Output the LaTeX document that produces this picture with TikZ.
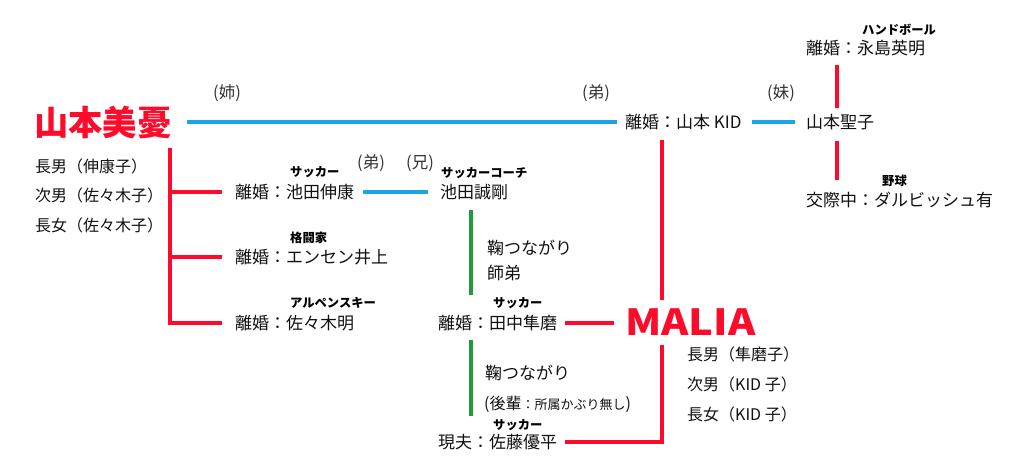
\documentclass[tikz,border=0pt]{standalone}
\usepackage{fontspec}
\setmainfont{Noto Sans CJK JP}
\definecolor{myred}{HTML}{FF0A2A}
\definecolor{myblue}{HTML}{1BA6E0}
\definecolor{mygreen}{HTML}{1E9B3A}
\definecolor{txtc}{HTML}{111111}
\definecolor{relc}{HTML}{333333}
\tikzset{
  lbl/.style={anchor=west, inner sep=0pt, text=txtc, font=\fontsize{17}{17}\selectfont},
  kidlbl/.style={anchor=west, inner sep=0pt, text=txtc, font=\fontsize{16}{16}\selectfont},
  rubylbl/.style={anchor=west, inner sep=0pt, text=black, font=\fontsize{12.3}{12}\selectfont\bfseries},
  rellbl/.style={anchor=west, inner sep=0pt, text=relc, font=\fontsize{16.5}{16}\selectfont},
  bigname/.style={anchor=west, inner sep=0pt, text=myred, font=\fontsize{34.3}{35}\selectfont\bfseries},
  redl/.style={draw=myred, line width=4pt},
  bluel/.style={draw=myblue, line width=4pt},
  greenl/.style={draw=mygreen, line width=4pt},
}
\begin{document}
\begin{tikzpicture}[x=1pt,y=-1pt]
\useasboundingbox (0,0) rectangle (1023,476);
% main people
\node[bigname] (miyu) at (34,122) {山本美憂};
\node[rellbl] (ane) at (213,93) {(姉)};
\node[rellbl] (ototo1) at (582,93) {(弟)};
\node[lbl] (kid) at (625,122) {離婚：山本 KID};
\node[rellbl] (imoto) at (767,93) {(妹)};
\node[lbl] (seiko) at (806,122) {山本聖子};
\node[lbl] (naga) at (806,48) {離婚：永島英明};
\node[rubylbl] (nagar) at (862,30) {ハンドボール};
\node[lbl] (darv) at (806,200) {交際中：ダルビッシュ有};
\node[rubylbl] (darvr) at (882,181) {野球};
% miyu's children
\node[kidlbl] (mk1) at (35,166) {長男（伸康子）};
\node[kidlbl] (mk2) at (35,195) {次男（佐々木子）};
\node[kidlbl] (mk3) at (35,225) {長女（佐々木子）};
% miyu's ex-husbands
\node[lbl] (ikeda) at (235,192) {離婚：池田伸康};
\node[rubylbl] (ikedar) at (290,172) {サッカー};
\node[rellbl] (ototo2) at (357,163) {(弟)};
\node[rellbl] (ani) at (406,163) {(兄)};
\node[lbl] (seigo) at (440,192) {池田誠剛};
\node[rubylbl] (seigor) at (441,173) {サッカーコーチ};
\node[lbl] (ensen) at (235,257) {離婚：エンセン井上};
\node[rubylbl] (ensenr) at (290,238) {格闘家};
\node[lbl] (sasaki) at (235,323) {離婚：佐々木明};
\node[rubylbl] (sasakir) at (290,303) {アルペンスキー};
% middle column
\node[lbl] (mar1) at (487,248) {鞠つながり};
\node[lbl] (shitei) at (487,273) {師弟};
\node[lbl] (tanaka) at (438,323) {離婚：田中隼磨};
\node[rubylbl] (tanakar) at (493,303) {サッカー};
\node[lbl] (mar2) at (485,373) {鞠つながり};
\node[kidlbl] (kohai) at (484,404) {(後輩{\fontsize{13}{13}\selectfont ：所属かぶり無し})};
\node[lbl] (sato) at (438,442) {現夫：佐藤優平};
\node[rubylbl] (sator) at (493,425) {サッカー};
% MALIA
\node[bigname, font=\fontsize{36}{36}\selectfont\bfseries] (malia) at (625,322) {\scalebox{1.15}[1]{MALIA}};
\node[kidlbl] (mc1) at (687,354) {長男（隼磨子）};
\node[kidlbl] (mc2) at (687,384) {次男（KID 子）};
\node[kidlbl] (mc3) at (687,414) {長女（KID 子）};
% helper coordinates
\coordinate (sx) at (837,0);
\coordinate (kx) at (662,0);
\coordinate (gx) at (471,0);
\coordinate (brtop) at (170,148);
\coordinate (brbot) at (170,325);
% blue sibling lines
\draw[bluel] (187,0 |- miyu.east) -- ([xshift=-8pt]kid.west);
\draw[bluel] ([xshift=10pt]kid.east) -- ([xshift=-11pt]seiko.west);
\draw[bluel] ([xshift=9pt]ikeda.east) -- ([xshift=-12pt]seigo.west);
% red marriage lines
\draw[redl] (sx |- naga.south) ++(0,9) -- ([yshift=6pt]sx |- seiko.north);
\draw[redl] (sx |- seiko.south) ++(0,11) -- ([yshift=12pt]sx |- darv.north);
\draw[redl] (brtop) -- (brbot);
\draw[redl] (brtop |- ikeda.west) -- ([xshift=-13pt]ikeda.west);
\draw[redl] (brtop |- ensen.west) -- ([xshift=-13pt]ensen.west);
\draw[redl] (brtop |- sasaki.west) -- ([xshift=-13pt]sasaki.west);
\draw[redl] (kx |- kid.south) ++(0,10) -- ([yshift=8pt]kx |- malia.north);
\draw[redl] ([xshift=8pt]tanaka.east) -- ([xshift=-11pt]malia.west |- tanaka.east);
\draw[redl] (kx |- malia.south) ++(0,9) -- (kx |- sato.east) -- ([xshift=8pt]sato.east);
% green lines
\draw[greenl] (gx |- seigo.south) ++(0,10) -- ([yshift=2pt]gx |- tanakar.north);
\draw[greenl] (gx |- tanaka.south) ++(0,9) -- ([yshift=3pt]gx |- sator.north);
\end{tikzpicture}
\end{document}
